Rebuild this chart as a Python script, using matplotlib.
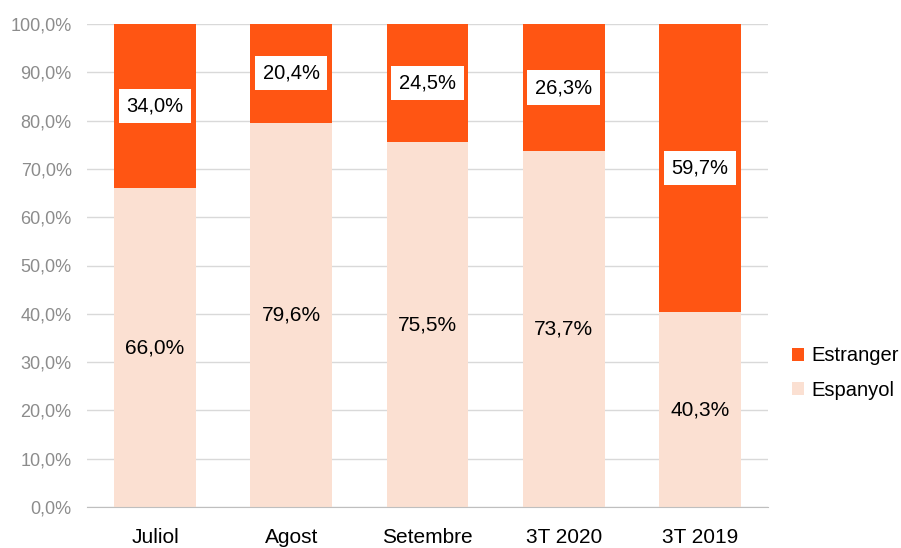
import numpy as np
import matplotlib.pyplot as plt
from matplotlib.ticker import FuncFormatter

plt.rcParams['font.family'] = ['Liberation Sans Narrow', 'Liberation Sans', 'DejaVu Sans']

categories = ['Juliol', 'Agost', 'Setembre', '3T 2020', '3T 2019']
espanyol = [66.0, 79.6, 75.5, 73.7, 40.3]
estranger = [34.0, 20.4, 24.5, 26.3, 59.7]
yticks = np.arange(0, 101, 10)

c_est = '#FF5513'
c_esp = '#FBE0D2'

fig = plt.figure(figsize=(9.01, 5.48), dpi=100)
ax = fig.add_axes([87 / 901, 41 / 548, 681 / 901, 483 / 548])

x = np.arange(len(categories))
b1 = ax.bar(x, espanyol, width=0.6, color=c_esp, label='Espanyol', zorder=2)
b2 = ax.bar(x, estranger, width=0.6, bottom=espanyol, color=c_est, label='Estranger', zorder=2)

fmt = lambda v: f'{v:.1f}'.replace('.', ',') + '%'
for xi, e, s in zip(x, espanyol, estranger):
    ax.text(xi, e / 2, fmt(e), ha='center', va='center', fontsize=15, color='black', zorder=3)
    ax.text(xi, e + s / 2, fmt(s), ha='center', va='center', fontsize=14.5, color='black', zorder=3,
            bbox=dict(boxstyle='square,pad=0.38', fc='white', ec='none'))

ax.set_xlim(-0.5, len(categories) - 0.5)
ax.set_ylim(0, 100)
ax.set_yticks(yticks)
ax.yaxis.set_major_formatter(FuncFormatter(lambda v, p: fmt(v)))
ax.set_xticks(x)
ax.set_xticklabels(categories, fontsize=15, color='black')
ax.tick_params(axis='y', labelsize=13, labelcolor='#8C8C8C', length=0, pad=11)
ax.tick_params(axis='x', length=0, pad=15)
ax.grid(axis='y', color='#D9D9D9', lw=1, zorder=0)
for sp in ['top', 'right', 'left']:
    ax.spines[sp].set_visible(False)
ax.spines['bottom'].set_color('#BFBFBF')

handles = [b2, b1]
fig.legend(handles, ['Estranger', 'Espanyol'], loc='center left', bbox_to_anchor=(792 / 901, 1 - 373 / 548),
           frameon=False, fontsize=14.5, handlelength=0.6, handleheight=0.6, handletextpad=0.35,
           labelspacing=0.75, borderaxespad=0, borderpad=0)

plt.savefig('out.png', dpi=100)
